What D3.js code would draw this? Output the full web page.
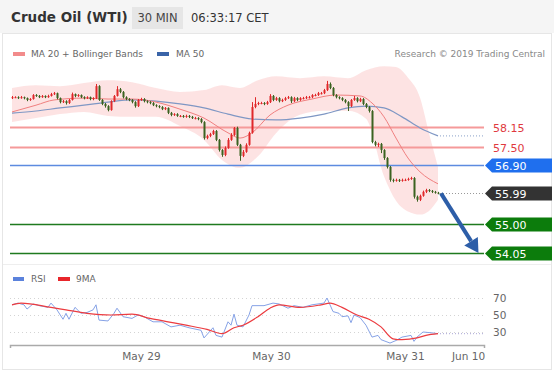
<!DOCTYPE html>
<html>
<head>
<meta charset="utf-8">
<script src="https://cdn.jsdelivr.net/npm/d3@7"></script>
<style>
  body { margin: 0; background: #fff; }
  svg text { font-family: "DejaVu Sans", Verdana, sans-serif; }
</style>
</head>
<body>
<div id="chart"></div>
<script>
// 30 min candles, open = previous close
const firstOpen = 59.09;
const closes = [
  59.12,59.12,59.09,59.12,59.09,59.03,59.06,59.19,59.16,59.12,
  59.16,59.12,59.16,59.22,59.25,59.09,58.96,58.99,58.93,59.03,
  59.22,59.16,59.19,59.12,59.09,59.12,59.06,59.09,59.48,59.03,
  58.90,58.83,58.70,58.99,59.16,59.38,59.29,59.12,59.06,59.03,
  58.96,58.83,59.03,59.06,58.99,58.96,58.93,58.86,58.83,58.80,
  58.73,58.77,58.61,58.54,58.57,58.51,58.51,58.48,58.51,58.48,
  58.44,58.44,58.41,58.31,57.79,57.86,57.92,58.02,57.73,57.40,
  57.24,57.47,57.73,57.89,58.12,57.57,57.21,57.34,57.57,57.96,
  58.80,58.90,58.93,58.93,58.90,58.96,59.16,59.03,59.09,58.99,
  59.03,59.09,59.12,58.99,59.09,59.03,59.09,59.09,59.12,59.12,
  59.19,59.19,59.25,59.25,59.35,59.55,59.42,59.19,59.12,59.09,
  59.03,58.96,58.83,59.03,59.09,58.99,59.06,58.90,58.80,58.67,
  57.66,57.57,57.60,57.40,57.14,56.85,56.43,56.40,56.43,56.40,
  56.43,56.43,56.46,56.49,55.88,55.78,55.91,56.04,56.10,56.07,
  56.04,56.01,55.99];
const highs = [
  59.16,59.15,59.15,59.16,59.14,59.11,59.09,59.22,59.22,59.19,
  59.19,59.18,59.20,59.26,59.29,59.27,59.11,59.03,59.02,59.06,
  59.27,59.24,59.22,59.21,59.15,59.15,59.14,59.12,59.55,59.51,
  59.06,58.93,58.86,59.02,59.19,59.48,59.42,59.32,59.15,59.09,
  59.06,58.99,59.06,59.10,59.09,59.02,58.99,58.96,58.89,58.86,
  58.83,58.80,58.79,58.64,58.60,58.60,58.54,58.54,58.55,58.54,
  58.51,58.48,58.47,58.44,58.34,57.90,57.96,58.06,58.05,57.76,
  57.43,57.52,57.79,57.95,58.15,58.16,57.60,57.40,57.62,58.00,
  58.96,59.12,58.97,58.97,58.96,59.00,59.22,59.19,59.13,59.12,
  59.07,59.13,59.16,59.15,59.13,59.12,59.12,59.13,59.16,59.16,
  59.22,59.23,59.29,59.29,59.39,59.65,59.60,59.45,59.22,59.15,
  59.12,59.06,58.99,59.06,59.16,59.12,59.10,59.09,58.93,58.83,
  58.70,57.70,57.64,57.63,57.43,57.17,56.88,56.47,56.47,56.46,
  56.47,56.47,56.50,56.53,56.52,55.92,55.95,56.08,56.14,56.13,
  56.10,56.07,56.04];
const lows = [
  59.06,59.09,59.06,59.07,59.05,58.99,59.00,59.04,59.13,59.09,
  59.10,59.09,59.10,59.14,59.19,59.05,58.92,58.93,58.88,58.90,
  59.01,59.12,59.13,59.09,59.05,59.06,59.02,59.02,59.06,59.00,
  58.86,58.78,58.66,58.68,58.96,59.14,59.25,59.08,59.02,58.99,
  58.92,58.78,58.80,59.00,58.95,58.92,58.89,58.83,58.79,58.76,
  58.70,58.70,58.57,58.50,58.51,58.48,58.47,58.45,58.45,58.44,
  58.41,58.40,58.37,58.27,57.74,57.75,57.82,57.89,57.69,57.35,
  57.18,57.20,57.44,57.70,57.86,57.53,57.05,57.17,57.31,57.54,
  57.93,58.76,58.86,58.89,58.86,58.87,58.93,58.99,59.00,58.95,
  58.96,59.00,59.06,58.93,58.96,58.99,59.00,59.05,59.06,59.08,
  59.09,59.15,59.16,59.21,59.22,59.32,59.38,59.15,59.08,59.05,
  58.99,58.92,58.67,58.80,59.00,58.95,58.96,58.86,58.76,58.62,
  57.62,57.52,57.50,57.30,57.08,56.80,56.37,56.35,56.37,56.36,
  56.37,56.39,56.40,56.43,55.82,55.72,55.74,55.88,56.00,56.03,
  56.00,55.98,55.96];

// indicators read at sample candles
const ma50Idx = [0,8,16,24,32,40,48,56,64,72,80,88,96,104,112,118,124,130,136,142];
const ma50Val = [58.60,58.67,58.77,58.86,58.96,59.03,58.99,58.90,58.77,58.57,58.41,58.38,58.44,58.57,58.77,58.83,58.77,58.48,58.12,57.86];
const ma20Idx = [0,8,14,24,32,40,48,56,64,72,76,80,86,92,100,108,116,120,124,128,132,136,142];
const ma20Val = [58.64,58.86,59.03,59.09,59.06,59.06,58.96,58.73,58.44,57.96,57.79,57.96,58.54,58.86,59.06,59.19,59.16,58.93,58.48,57.79,57.14,56.69,56.30];
const bandIdx = [0,8,16,24,32,40,48,56,64,70,76,82,88,96,104,112,118,124,128,132,136,139,142];
const bandUpper = [59.42,59.51,59.48,59.58,59.67,59.61,59.42,59.29,59.35,59.51,59.42,59.67,59.80,59.74,59.80,59.74,60.00,60.13,60.10,59.75,59.10,57.95,56.85];
const bandLower = [58.31,58.44,58.57,58.64,58.51,58.48,58.48,58.18,57.73,57.08,56.82,57.20,57.95,58.55,58.68,58.68,58.42,56.55,55.75,55.40,55.30,55.42,55.78];

const rsiIdx = [0,2,4,5,7,9,12,13,15,17,18,19,21,23,25,27,28,29,32,34,35,37,40,42,44,47,50,53,56,59,63,64,67,68,70,72,73,74,75,77,79,80,84,87,89,92,94,97,100,104,105,107,109,110,112,113,114,116,118,120,122,123,126,128,130,133,134,135,137,140,142];
const rsiVal = [62,64,62,57,63,61,59,64,56,45,52,45,59,52,53,56,62,44,43,52,58,48,46,50,48,42,42,36,38,35,32,23,35,26,24,42,38,51,38,36,50,61,61,64,63,58,61,59,62,64,70,54,52,48,49,41,50,47,38,24,26,21,17,20,24,26,19,24,30,29,28];
const rsiMaIdx = [0,3,13,18,25,33,40,46,52,58,65,70,74,77,82,86,89,96,103,106,110,115,119,123,127,130,135,138,142];
const rsiMaVal = [62,64,59,56,52,50,51,46,42,38,33,28,35,38,48,58,62,59,62,64,59,50,45,36,22,21,23,26,28];

const levelValues = [58.15, 57.50, 56.90, 55.99, 55.00, 54.05];
const levelKinds = ["res", "res", "pivot", "last", "sup", "sup"];
const targetIdx = 155.5;

const dateTickIdx = [43, 86.3, 131, 152];
const dateTickLabels = ["May 29", "May 30", "May 31", "Jun 10"];
const rsiTicks = [30, 50, 70];

const W = 554, H = 376;
const svg = d3.select("#chart").append("svg")
    .attr("width", W).attr("height", H);

// header
svg.append("rect").attr("x", 0).attr("y", 0).attr("width", W).attr("height", 33).attr("fill", "#f5f5f5");
svg.append("text").attr("x", 11).attr("y", 22).attr("font-size", 13.5).attr("font-weight", "bold")
    .attr("fill", "#333").text("Crude Oil (WTI)");
svg.append("rect").attr("x", 132).attr("y", 7).attr("width", 51).attr("height", 22).attr("fill", "#e6e6e6");
svg.append("text").attr("x", 157.5).attr("y", 22).attr("text-anchor", "middle").attr("font-size", 11.5)
    .attr("fill", "#444").text("30 MIN");
svg.append("text").attr("x", 191).attr("y", 22).attr("font-size", 11.5).attr("fill", "#333").text("06:33:17 CET");

// frame
svg.append("rect").attr("x", 2.5).attr("y", 33.5).attr("width", 549).attr("height", 336)
    .attr("fill", "none").attr("stroke", "#e6e6e6");
svg.append("line").attr("x1", 3).attr("x2", 551).attr("y1", 264.5).attr("y2", 264.5).attr("stroke", "#eeeeee");

// legend
let legend = svg.append("g").attr("font-size", 9).attr("fill", "#666");
legend.append("rect").attr("x", 13).attr("y", 52).attr("width", 12).attr("height", 4).attr("fill", "#f28b8b");
legend.append("text").attr("x", 31).attr("y", 57).text("MA 20 + Bollinger Bands");
legend.append("rect").attr("x", 157).attr("y", 52).attr("width", 12).attr("height", 4).attr("fill", "#3a64a8");
legend.append("text").attr("x", 176).attr("y", 57).text("MA 50");
legend.append("text").attr("x", 545).attr("y", 57).attr("text-anchor", "end").attr("fill", "#888")
    .text("Research \u00a9 2019 Trading Central");

// scales
const x = d3.scaleLinear().domain([0, 156]).range([12, 480]);
const y = d3.scaleLinear().domain([54.05, 58.15]).range([253, 127]);
const yr = d3.scaleLinear().domain([30, 70]).range([332, 298]);

// bollinger band
const band = bandIdx.map((d, i) => ({i: d, hi: bandUpper[i], lo: bandLower[i]}));
svg.append("path").datum(band)
    .attr("fill", "#fcd9d9").attr("opacity", 0.75)
    .attr("d", d3.area().curve(d3.curveMonotoneX).x(d => x(d.i)).y0(d => y(d.lo)).y1(d => y(d.hi)));

// level lines
const levels = levelValues.map((v, i) => ({v: v, kind: levelKinds[i]}));
const lineColor = {res: "#f59a9a", pivot: "#5d8be0", sup: "#1f7a1f", last: "#999"};
const boxColor = {pivot: "#1f6fee", last: "#333333", sup: "#0c7c0c"};
const lastX = x(closes.length - 1);

levels.forEach(l => {
    let yy = Math.round(y(l.v)) + 0.5;
    if (l.kind == "last") {
        svg.append("line").attr("x1", lastX + 2).attr("x2", 484).attr("y1", yy).attr("y2", yy)
            .attr("stroke", "#999").attr("stroke-dasharray", "1,2");
    } else {
        svg.append("line").attr("x1", 10).attr("x2", 484).attr("y1", yy).attr("y2", yy)
            .attr("stroke", lineColor[l.kind]).attr("stroke-width", l.kind == "res" ? 1.8 : 1.6);
    }
    if (l.kind == "res") {
        svg.append("text").attr("x", 493).attr("y", yy + 4).attr("font-size", 11)
            .attr("fill", "#e0393e").text(l.v.toFixed(2));
    } else {
        let h = 7;
        svg.append("path")
            .attr("d", `M485,${yy} L492,${yy - h} L552,${yy - h} L552,${yy + h} L492,${yy + h} Z`)
            .attr("fill", boxColor[l.kind]);
        svg.append("text").attr("x", 495).attr("y", yy + 4).attr("font-size", 11)
            .attr("fill", "#fff").text(l.v.toFixed(2));
    }
});

// MA50 and MA20
const ma50 = ma50Idx.map((d, i) => [d, ma50Val[i]]);
svg.append("path").datum(ma50).attr("fill", "none").attr("stroke", "#7f97c4").attr("stroke-width", 1.2)
    .attr("d", d3.line().curve(d3.curveMonotoneX).x(d => x(d[0])).y(d => y(d[1])));
let ma50Last = ma50[ma50.length - 1];
svg.append("line").attr("x1", x(ma50Last[0]) + 2).attr("x2", 484)
    .attr("y1", y(ma50Last[1])).attr("y2", y(ma50Last[1]))
    .attr("stroke", "#8aa0c8").attr("stroke-dasharray", "1,2");

const ma20 = ma20Idx.map((d, i) => [d, ma20Val[i]]);
svg.append("path").datum(ma20).attr("fill", "none").attr("stroke", "#f08080").attr("stroke-width", 1)
    .attr("d", d3.line().curve(d3.curveMonotoneX).x(d => x(d[0])).y(d => y(d[1])));

// candles
const candles = closes.map((c, i) => ({
    i: i, o: i == 0 ? firstOpen : closes[i - 1], c: c, h: highs[i], l: lows[i]
}));
const cg = svg.append("g");
candles.forEach(d => {
    let col = d.c >= d.o ? "#e0282a" : "#3b6321";
    let cx = Math.round(x(d.i));
    cg.append("line").attr("x1", cx + 0.5).attr("x2", cx + 0.5)
        .attr("y1", y(d.h)).attr("y2", y(d.l)).attr("stroke", col).attr("stroke-width", 1);
    let top = y(Math.max(d.o, d.c)), bot = y(Math.min(d.o, d.c));
    cg.append("rect").attr("x", cx - 0.5).attr("width", 2)
        .attr("y", top).attr("height", Math.max(1, bot - top)).attr("fill", col);
});

// forecast arrow
const arrowStart = [lastX + 3, y(closes[closes.length - 1])];
const arrowEnd = [x(targetIdx), y(levelValues[5])];
let dx = arrowEnd[0] - arrowStart[0], dy = arrowEnd[1] - arrowStart[1];
let len = Math.sqrt(dx * dx + dy * dy), ux = dx / len, uy = dy / len;
let headLen = 14, headW = 8;
let bx = arrowEnd[0] - ux * headLen, by = arrowEnd[1] - uy * headLen;
svg.append("line").attr("x1", arrowStart[0]).attr("y1", arrowStart[1]).attr("x2", bx).attr("y2", by)
    .attr("stroke", "#2d5ea8").attr("stroke-width", 4);
svg.append("path")
    .attr("d", `M${arrowEnd[0]},${arrowEnd[1]} L${bx - uy * headW},${by + ux * headW} L${bx + uy * headW},${by - ux * headW} Z`)
    .attr("fill", "#2d5ea8");

// RSI panel legend
let rl = svg.append("g").attr("font-size", 9).attr("fill", "#666");
rl.append("rect").attr("x", 13).attr("y", 277).attr("width", 11).attr("height", 4).attr("fill", "#5b82dc");
rl.append("text").attr("x", 31).attr("y", 282).text("RSI");
rl.append("rect").attr("x", 58).attr("y", 277).attr("width", 12).attr("height", 4).attr("fill", "#e8262b");
rl.append("text").attr("x", 76).attr("y", 282).text("9MA");

// RSI grid
rsiTicks.forEach(t => {
    svg.append("line").attr("x1", 10).attr("x2", 484).attr("y1", Math.round(yr(t)) + 0.5).attr("y2", Math.round(yr(t)) + 0.5)
        .attr("stroke", "#d4d4d4").attr("stroke-dasharray", "1,3");
});
let rAxis = svg.append("g").attr("transform", "translate(488,0)")
    .call(d3.axisRight(yr).tickValues(rsiTicks).tickSize(0).tickPadding(5));
rAxis.select(".domain").remove();
rAxis.selectAll("text").attr("font-size", 10.5).attr("fill", "#666").attr("font-family", "DejaVu Sans, sans-serif");

// RSI lines
const rsi = rsiIdx.map((d, i) => [d, rsiVal[i]]);
svg.append("path").datum(rsi).attr("fill", "none").attr("stroke", "#86a2e6").attr("stroke-width", 1)
    .attr("d", d3.line().x(d => x(d[0])).y(d => yr(d[1])));
let rsiLast = rsi[rsi.length - 1];
svg.append("line").attr("x1", x(rsiLast[0]) + 2).attr("x2", 484)
    .attr("y1", yr(rsiLast[1])).attr("y2", yr(rsiLast[1]))
    .attr("stroke", "#a9a6d6").attr("stroke-dasharray", "1,2");
const rsiMa = rsiMaIdx.map((d, i) => [d, rsiMaVal[i]]);
svg.append("path").datum(rsiMa).attr("fill", "none").attr("stroke", "#ec3c40").attr("stroke-width", 1.2)
    .attr("d", d3.line().curve(d3.curveMonotoneX).x(d => x(d[0])).y(d => yr(d[1])));

// date axis
svg.append("path").attr("d", "M10.5,348 V345.5 H484.5 V348").attr("fill", "none").attr("stroke", "#aaa").attr("stroke-width", 1.5);
let xAxis = svg.append("g").attr("transform", "translate(0,348)")
    .call(d3.axisBottom(x).tickValues(dateTickIdx).tickFormat((d, i) => dateTickLabels[i]).tickSize(0).tickPadding(5));
xAxis.select(".domain").remove();
xAxis.selectAll("text").attr("font-size", 10.5).attr("fill", "#666").attr("font-family", "DejaVu Sans, sans-serif");
</script>
</body>
</html>
